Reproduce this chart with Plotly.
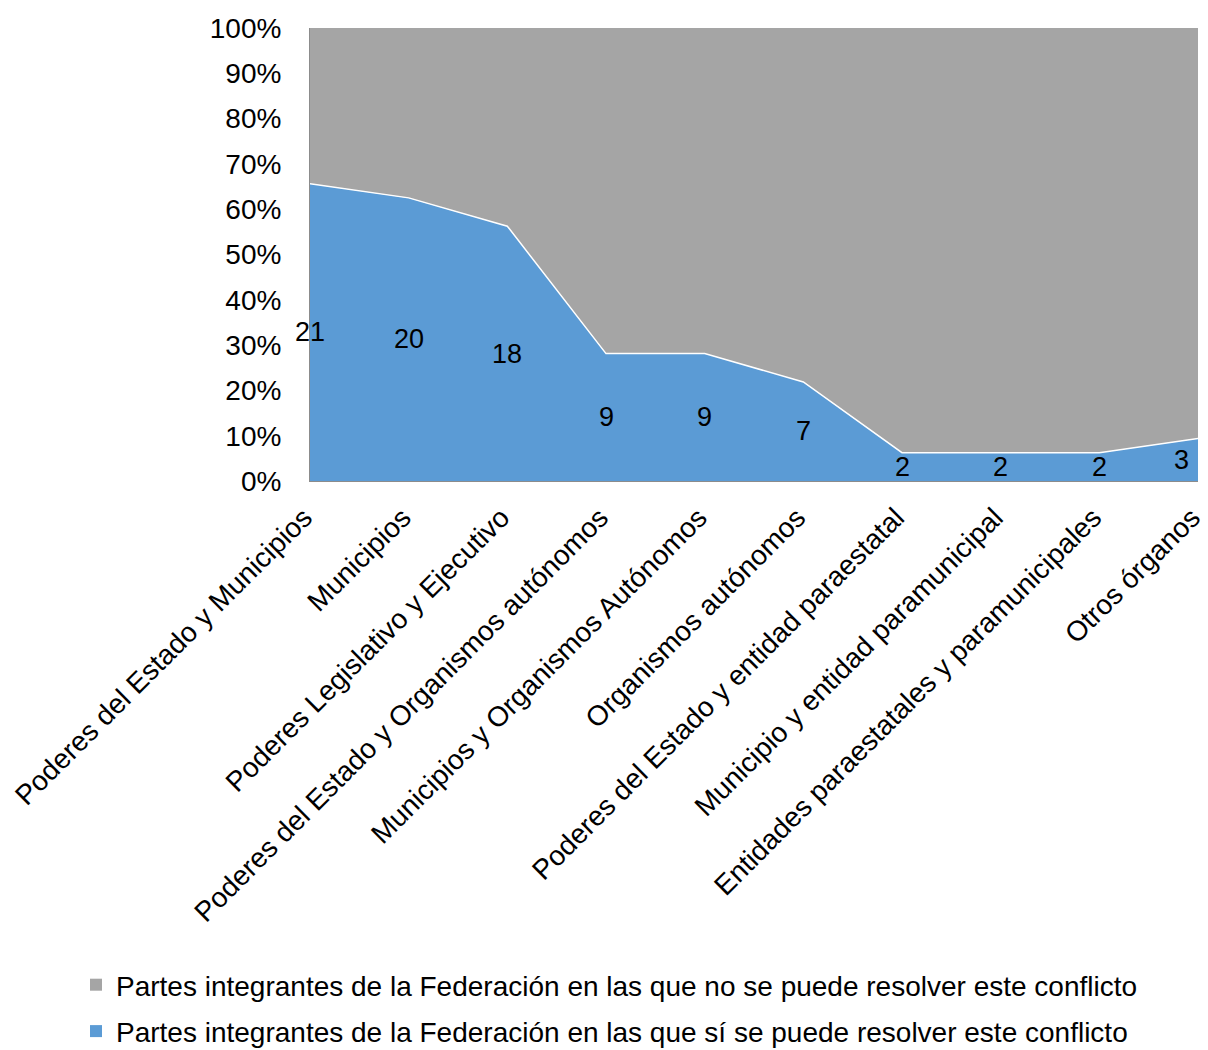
import plotly.graph_objects as go

categories = [
    "Poderes del Estado y Municipios",
    "Municipios",
    "Poderes Legislativo y Ejecutivo",
    "Poderes del Estado y Organismos autónomos",
    "Municipios y Organismos Autónomos",
    "Organismos autónomos",
    "Poderes del Estado y entidad paraestatal",
    "Municipio y entidad paramunicipal",
    "Entidades paraestatales y paramunicipales",
    "Otros órganos",
]
si_values = [21, 20, 18, 9, 9, 7, 2, 2, 2, 3]
no_values = [11, 12, 14, 23, 23, 25, 30, 30, 30, 29]
name_no = "Partes integrantes de la Federación en las que no se puede resolver este conflicto"
name_si = "Partes integrantes de la Federación en las que sí se puede resolver este conflicto"

FONT = "Liberation Sans, Arial, sans-serif"
BLUE = "#5B9BD5"
GRAY = "#A5A5A5"
FS = 28

fig = go.Figure()
fig.add_trace(go.Scatter(
    x=categories, y=si_values, name=name_si, mode="lines",
    stackgroup="one", groupnorm="percent", showlegend=False,
    line=dict(color="white", width=1.5), fillcolor=BLUE,
))
fig.add_trace(go.Scatter(
    x=categories, y=no_values, name=name_no, mode="lines",
    stackgroup="one", showlegend=False,
    line=dict(color=GRAY, width=0), fillcolor=GRAY,
))
# legend entries with square swatches (gray first, as in the reference)
fig.add_trace(go.Scatter(
    x=[None], y=[None], mode="markers", name=name_no, legendgroup="no",
    marker=dict(symbol="square", size=12, color=GRAY),
))
fig.add_trace(go.Scatter(
    x=[None], y=[None], mode="markers", name=name_si, legendgroup="si",
    marker=dict(symbol="square", size=12, color=BLUE),
))

for i, (c, s, n) in enumerate(zip(categories, si_values, no_values)):
    pct = s / (s + n) * 100
    last = i == len(categories) - 1
    fig.add_annotation(
        x=c, y=pct / 2, text=str(s), showarrow=False,
        font=dict(family=FONT, size=FS - 1, color="black"),
        xanchor="right" if last else "center",
        xshift=-7 if last else 0,
    )

fig.update_layout(
    width=1208, height=1050,
    margin=dict(l=310, r=10, t=28, b=569, autoexpand=False),
    paper_bgcolor="white", plot_bgcolor="white",
    font=dict(family=FONT, size=FS, color="black"),
    showlegend=True,
    legend=dict(
        orientation="v", traceorder="grouped",
        xref="container", yref="container",
        x=76 / 1208, xanchor="left", y=1 - 960 / 1050, yanchor="top",
        font=dict(family=FONT, size=FS, color="black"),
        itemwidth=30, tracegroupgap=7,
    ),
)
fig.update_xaxes(
    range=[0, len(categories) - 1], tickangle=-45, automargin=False,
    showline=True, linecolor="#8C8C8C", linewidth=1,
    showgrid=False, zeroline=False, ticks="",
    tickfont=dict(family=FONT, size=FS, color="black"),
    ticklabelstandoff=8, ticklabelshift=-6,
)
fig.update_yaxes(
    range=[0, 100], dtick=10, ticksuffix="%", automargin=False,
    showline=True, linecolor="#8C8C8C", linewidth=1,
    showgrid=False, zeroline=False, ticks="",
    tickfont=dict(family=FONT, size=FS, color="black"),
    ticklabelstandoff=22,
)

fig.write_html("out.html")
